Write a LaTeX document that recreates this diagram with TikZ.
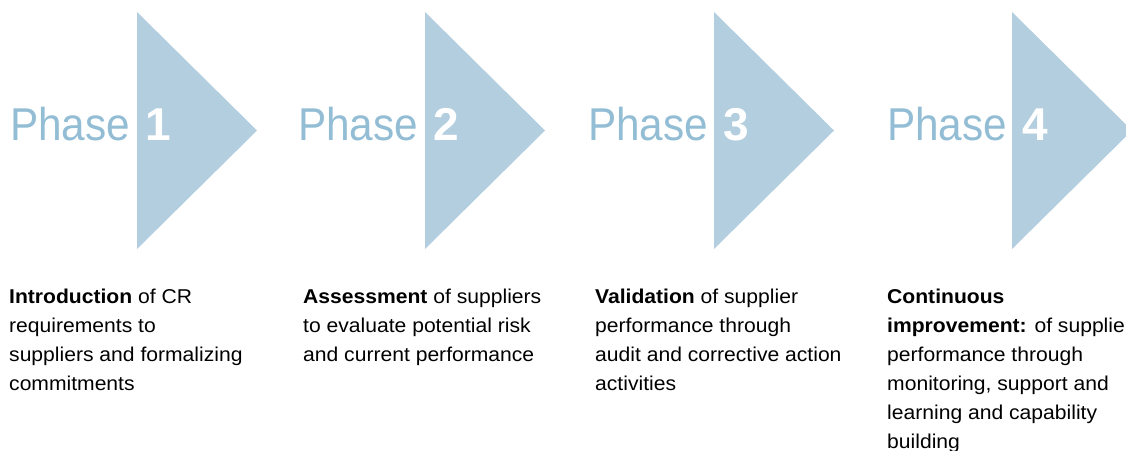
\documentclass[tikz,border=0pt]{standalone}
\usepackage{fontspec}
\setmainfont[FakeStretch=1.055]{Liberation Sans}
\newfontfamily\phasefont[FakeStretch=0.92]{Liberation Sans}
\newfontfamily\numfont{Liberation Sans Bold}
\definecolor{arrowblue}{RGB}{179,206,223}
\definecolor{phaseblue}{RGB}{146,189,212}

\begin{document}
\begin{tikzpicture}[x=1pt,y=-1pt,
  phase/.style={anchor=base west,inner sep=0pt,text=phaseblue,
    font=\phasefont\fontsize{46}{46}\selectfont},
  desc/.style={anchor=base west,inner sep=0pt,align=left,
    font=\fontsize{20}{29}\selectfont}]
\def\phasenum#1{\hspace{4pt}\textcolor{white}{\numfont #1}}
\useasboundingbox (0,0) rectangle (1126,450);
\clip (0,0) rectangle (1126,450);
% arrow heads
\fill [arrowblue] (137,12) -- ++(120,118.5) -- ++(-120,118.5) -- cycle;
\fill [arrowblue] (425,12) -- ++(120,118.5) -- ++(-120,118.5) -- cycle;
\fill [arrowblue] (714,12) -- ++(120,118.5) -- ++(-120,118.5) -- cycle;
\fill [arrowblue] (1012,12) -- ++(120,118.5) -- ++(-120,118.5) -- cycle;
% phase titles
\node [phase] (P1) at (10,140) {Phase \phasenum{1}};
\node [phase] (P2) at (298,140) {Phase \phasenum{2}};
\node [phase] (P3) at (588,140) {Phase \phasenum{3}};
\node [phase] (P4) at (887,140) {Phase \phasenum{4}};
% descriptions (placed by the baseline of their last line)
\node [desc] (D1) at (9,390) {\textbf{Introduction} of CR\\requirements to\\
  suppliers and formalizing\\commitments};
\node [desc] (D2) at (303,361) {\textbf{Assessment} of suppliers\\
  to evaluate potential risk\\and current performance};
\node [desc] (D3) at (595,390) {\textbf{Validation} of supplier\\
  performance through\\audit and corrective action\\activities};
\node [desc] (D4) at (887,448) {\textbf{Continuous}\\
  \textbf{improvement:} of supplier\\performance through\\
  monitoring, support and\\learning and capability\\building};
\end{tikzpicture}
\end{document}
